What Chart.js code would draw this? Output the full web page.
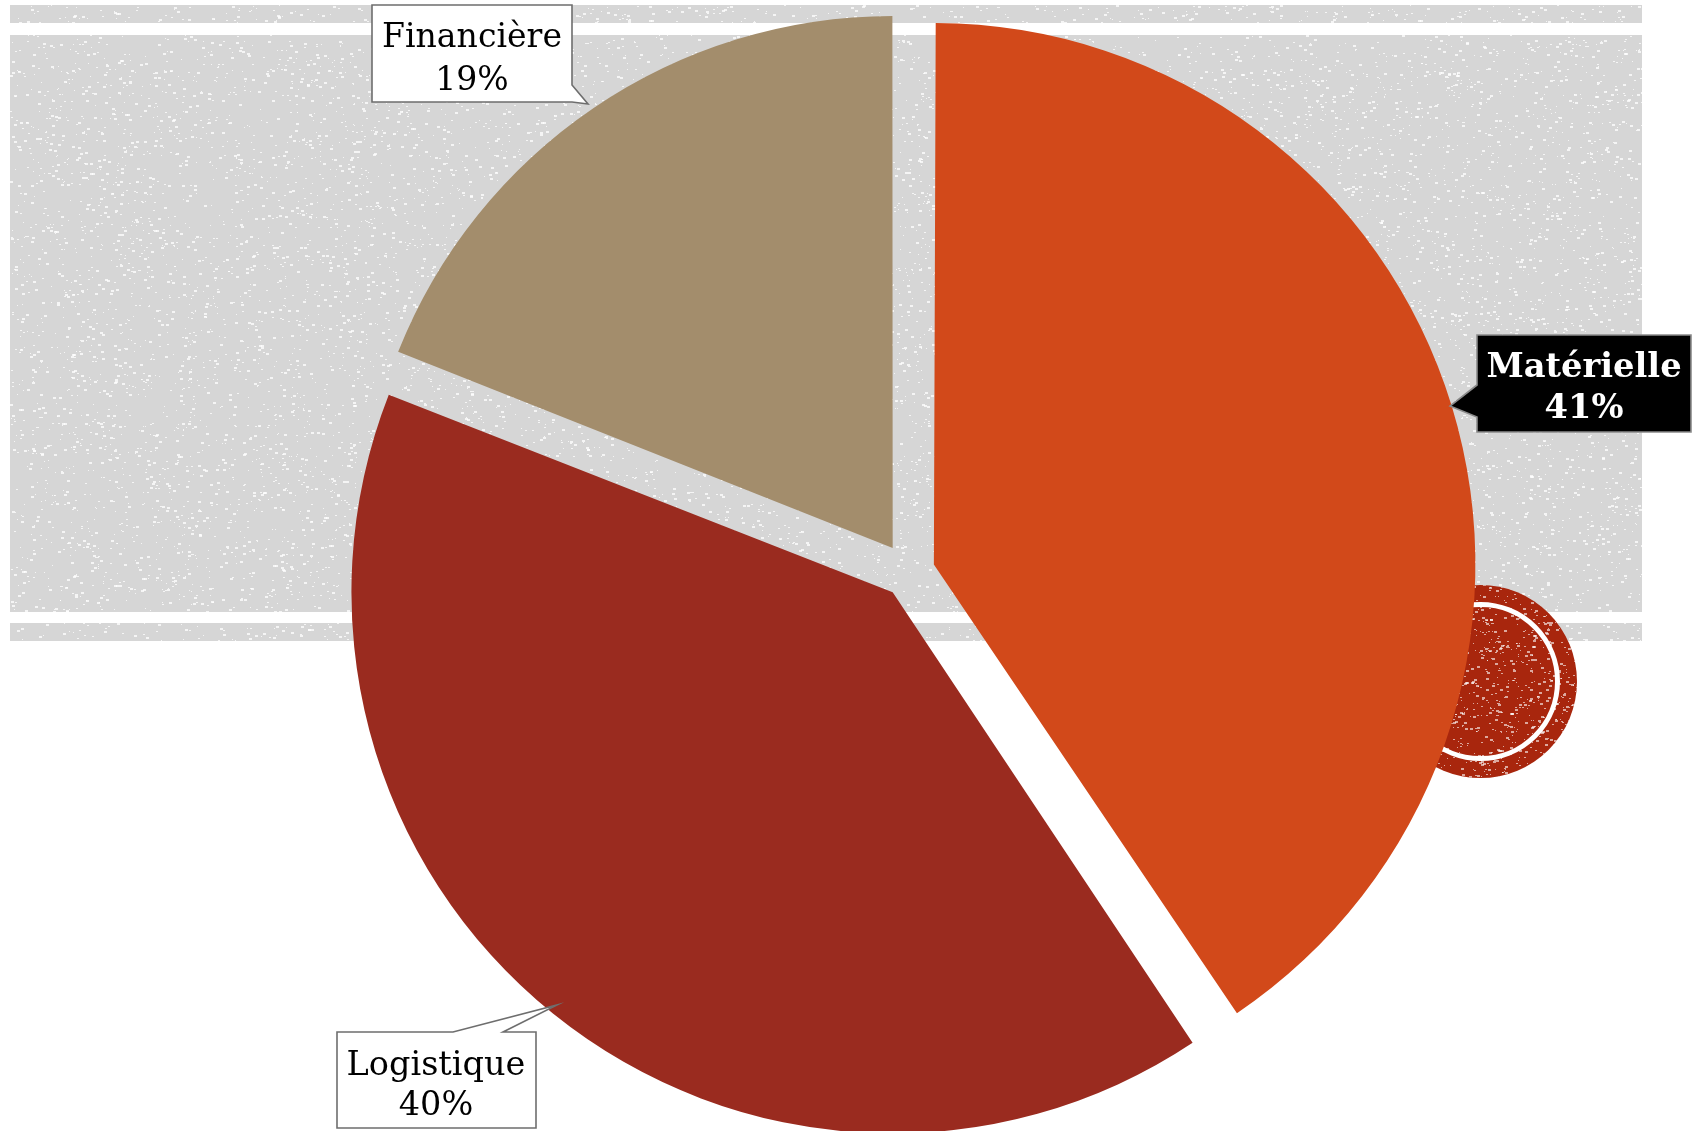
<!DOCTYPE html>
<html><head><meta charset="utf-8">
<script src="https://cdn.jsdelivr.net/npm/chart.js@4.4.1/dist/chart.umd.min.js"></script>
<style>html,body{margin:0;padding:0;background:#fff;overflow:hidden}canvas{display:block}</style>
</head><body>
<canvas id="c" width="1698" height="1131"></canvas>
<script>
// ---- data ----
const categories = ['Matérielle', 'Logistique', 'Financière'];
const shares = [40.6, 40.4, 19.0];
const pctLabels = ['41%', '40%', '19%'];

// ---- styles ----
const sliceColors = ['#D2491A', '#9A2B1F', '#A38D6C'];
const sliceOffsets = [104, 104, 116];

function hash(i) {
  let x = Math.imul((i ^ 0x9e3779b9) >>> 0, 0x85ebca6b);
  x ^= x >>> 13; x = Math.imul(x, 0xc2b2ae35); x ^= x >>> 16;
  return (x >>> 0) / 4294967296;
}
function speckle(ctx, x0, y0, w, h, density, seed, alpha) {
  ctx.fillStyle = 'rgba(255,255,255,' + alpha + ')';
  const n = Math.floor(w * h * density);
  for (let i = 0; i < n; i++) {
    const rx = x0 + hash(seed + i * 3) * w;
    const ry = y0 + hash(seed + i * 3 + 1) * h;
    const s = 1 + Math.floor(hash(seed + i * 3 + 2) * 3);
    ctx.fillRect(Math.floor(rx), Math.floor(ry), s, Math.max(1, s - 1));
  }
}

const backdrop = {
  id: 'backdrop',
  beforeDraw(chart) {
    const ctx = chart.ctx;
    ctx.save();
    ctx.fillStyle = '#ffffff';
    ctx.fillRect(0, 0, chart.width, chart.height);
    const bands = [[10, 5, 1632, 18], [10, 35, 1632, 577], [10, 623, 1632, 18]];
    bands.forEach((b, k) => {
      ctx.fillStyle = '#D6D6D6';
      ctx.fillRect(b[0], b[1], b[2], b[3]);
      ctx.save();
      ctx.beginPath(); ctx.rect(b[0], b[1], b[2], b[3]); ctx.clip();
      speckle(ctx, b[0], b[1], b[2], b[3], 0.014, 1000 + k * 777777, 0.75);
      ctx.restore();
    });
    // decorative stamp circle
    const cx = 1480.5, cy = 681.5;
    ctx.beginPath(); ctx.arc(cx, cy, 96.5, 0, Math.PI * 2);
    ctx.fillStyle = '#A8260D'; ctx.fill();
    ctx.save(); ctx.clip();
    speckle(ctx, cx - 97, cy - 97, 194, 194, 0.03, 555555, 0.6);
    ctx.restore();
    ctx.beginPath(); ctx.arc(cx, cy, 77, 0, Math.PI * 2);
    ctx.strokeStyle = '#ffffff'; ctx.lineWidth = 5; ctx.stroke();
    ctx.restore();
  }
};

// callout boxes: polygon, fill, stroke, text colour, bold, text centre x, baselines, target width
const callouts = [
  { poly: [[1477,335],[1691,335],[1691,432],[1477,432],[1477,417],[1450,406],[1477,385]],
    fill: '#000000', stroke: '#8a8a8a', color: '#ffffff', bold: true, cx: 1584, base: [377, 418], w: 195 },
  { poly: [[337,1032],[453,1032],[557,1005],[503,1032],[536,1032],[536,1128],[337,1128]],
    fill: '#ffffff', stroke: '#6e6e6e', color: '#000000', bold: false, cx: 436, base: [1075, 1115], w: 179 },
  { poly: [[372,5],[572,5],[572,85],[588,104],[572,102],[372,102]],
    fill: '#ffffff', stroke: '#6e6e6e', color: '#000000', bold: false, cx: 472, base: [47, 90], w: 180 }
];

const labelsPlugin = {
  id: 'calloutLabels',
  afterDraw(chart) {
    const ctx = chart.ctx;
    ctx.save();
    callouts.forEach((c, i) => {
      ctx.beginPath();
      c.poly.forEach((p, j) => j ? ctx.lineTo(p[0], p[1]) : ctx.moveTo(p[0], p[1]));
      ctx.closePath();
      ctx.fillStyle = c.fill; ctx.fill();
      ctx.strokeStyle = c.stroke; ctx.lineWidth = 1.6; ctx.stroke();
      const fam = '"DejaVu Serif", serif';
      const wt = c.bold ? 'bold ' : '';
      ctx.font = wt + '37px ' + fam;
      const mw = ctx.measureText(categories[i]).width;
      const size = Math.min(37, 37 * c.w / mw);
      ctx.font = wt + size.toFixed(1) + 'px ' + fam;
      ctx.fillStyle = c.color;
      ctx.textAlign = 'center';
      ctx.textBaseline = 'alphabetic';
      ctx.fillText(categories[i], c.cx, c.base[0]);
      ctx.fillText(pctLabels[i], c.cx, c.base[1]);
    });
    ctx.restore();
  }
};

new Chart(document.getElementById('c'), {
  type: 'pie',
  data: {
    labels: categories,
    datasets: [{
      data: shares,
      backgroundColor: sliceColors,
      borderWidth: 0,
      offset: sliceOffsets
    }]
  },
  options: {
    responsive: false,
    animation: false,
    events: [],
    radius: 530,
    layout: { padding: { left: 120, top: 13, right: 0, bottom: 0 } },
    plugins: { legend: { display: false }, tooltip: { enabled: false } }
  },
  plugins: [backdrop, labelsPlugin]
});
</script>
</body></html>
